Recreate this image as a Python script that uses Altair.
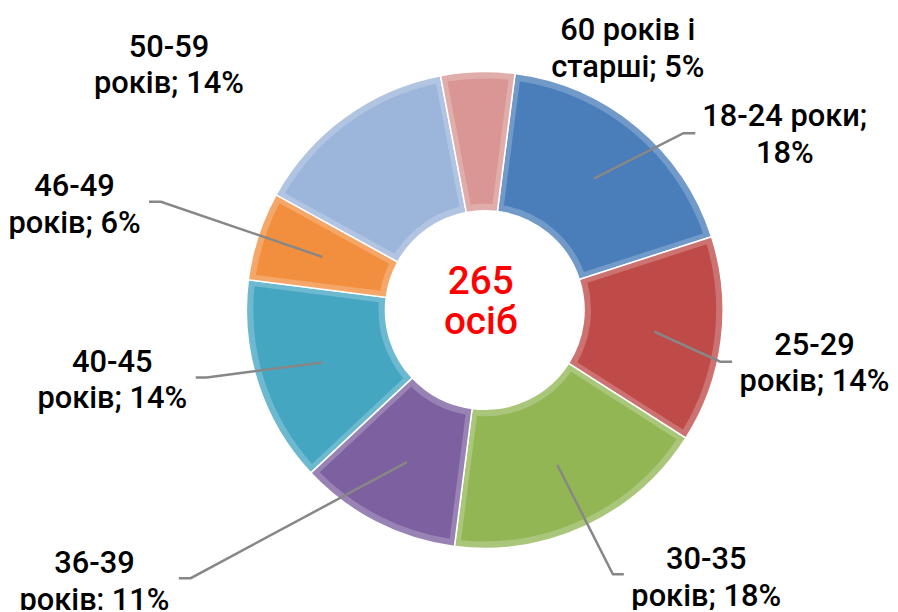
import math
import altair as alt
import pandas as pd

# ---- data ----
categories = ["18-24 роки", "25-29 років", "30-35 років", "36-39 років",
              "40-45 років", "46-49 років", "50-59 років", "60 років і старші"]
percent = [18, 14, 18, 11, 14, 6, 14, 5]
label_text = ["18-24 роки;\n18%", "25-29\nроків; 14%", "30-35\nроків; 18%", "36-39\nроків; 11%",
              "40-45\nроків; 14%", "46-49\nроків; 6%", "50-59\nроків; 14%", "60 років і\nстарші; 5%"]
center_text = "265\nосіб"

# ---- styling / layout ----
colors = ["#4A7EBB", "#BE4B48", "#93B655", "#7D60A0", "#45A6C2", "#F28F3E", "#9BB5DB", "#D99694"]
W, H = 888, 602
CX, CY = 480, 302            # centre of the ring inside the plot area
R_OUT, R_IN = 240, 100
ROT = math.radians(7.3)      # start angle of the first slice
R_LEADER = 172
# label anchor (centre x, first baseline y) relative to ring centre, y up
label_pos = [(302, 185), (332, -45), (223, -261), (-393, -265),
             (-375, -62), (-413, 115), (-318, 255), (144, 272)]
# leader elbow and end points relative to ring centre (None = no leader)
leader_pts = [((200, 178), (212, 178)), ((237, -52), (249, -52)), ((129, -266), (140, -266)),
              ((-296, -270), (-308, -270)), ((-280, -68), (-291, -68)), ((-326, 109), (-338, 109)),
              None, None]


def tint(hex_color, f):
    r, g, b = (int(hex_color[i:i + 2], 16) for i in (1, 3, 5))
    return "#%02x%02x%02x" % tuple(int(c + (255 - c) * f) for c in (r, g, b))


rim_colors = [tint(c, 0.22) for c in colors]

df = pd.DataFrame({"cat": categories, "value": percent, "order": range(len(categories)),
                   "label": label_text})

xscale = alt.Scale(domain=[-CX, W - CX], range=[0, W], nice=False, zero=False)
yscale = alt.Scale(domain=[-(H - CY), CY], range=[H, 0], nice=False, zero=False)

theta = alt.Theta("value:Q", stack=True, scale=alt.Scale(range=[ROT, ROT + 2 * math.pi]))
xc = alt.XDatum(0, type="quantitative", scale=xscale, axis=None)
yc = alt.YDatum(0, type="quantitative", scale=yscale, axis=None)

rim = alt.Chart(df).mark_arc(radius=R_OUT, radius2=R_IN, stroke="#ffffff", strokeWidth=1.5).encode(
    theta=theta, order=alt.Order("order:Q"), x=xc, y=yc,
    color=alt.Color("cat:N", scale=alt.Scale(domain=categories, range=rim_colors), legend=None),
)
face = alt.Chart(df).mark_arc(radius=R_OUT - 7, radius2=R_IN + 7, padAngle=0.045).encode(
    theta=theta, order=alt.Order("order:Q"), x=alt.XDatum(0), y=alt.YDatum(0),
    fill=alt.Fill("cat:N", scale=alt.Scale(domain=categories, range=colors), legend=None),
)

# leader lines: start at slice mid-angle
rows = []
cum = 0
total = sum(percent)
for i, (cat, v) in enumerate(zip(categories, percent)):
    mid = ROT + 2 * math.pi * (cum + v / 2) / total
    cum += v
    if leader_pts[i] is None:
        continue
    pts = [(R_LEADER * math.sin(mid), R_LEADER * math.cos(mid))] + list(leader_pts[i])
    for k, (px, py) in enumerate(pts):
        rows.append({"cat": cat, "k": k, "x": px, "y": py})
ldf = pd.DataFrame(rows)

leaders = alt.Chart(ldf).mark_line(color="#878787", strokeWidth=2.5).encode(
    x=alt.X("x:Q"), y=alt.Y("y:Q"), detail="cat:N", order="k:Q")

tdf = df.assign(lx=[p[0] for p in label_pos], ly=[p[1] for p in label_pos])
labels = alt.Chart(tdf).mark_text(font="Roboto", fontSize=31, fontWeight=500, lineHeight=37,
                                  align="center", baseline="alphabetic", lineBreak="\n",
                                  color="#000000").encode(
    x="lx:Q", y="ly:Q", text="label:N")

cdf = pd.DataFrame({"t": [center_text], "x": [-4], "y": [16]})
center = alt.Chart(cdf).mark_text(font="Roboto", fontSize=39, fontWeight=500, lineHeight=40,
                                  align="center", baseline="alphabetic", lineBreak="\n",
                                  color="#FF0000").encode(
    x="x:Q", y="y:Q", text="t:N")

chart = alt.layer(rim, face, leaders, labels, center).resolve_scale(
    color="independent", fill="independent"
).properties(
    width=W, height=H, padding=0, autosize=alt.AutoSizeParams(type="none")
).configure_view(stroke=None)

chart.save("out.html", embed_options={"renderer": "svg", "actions": False})
